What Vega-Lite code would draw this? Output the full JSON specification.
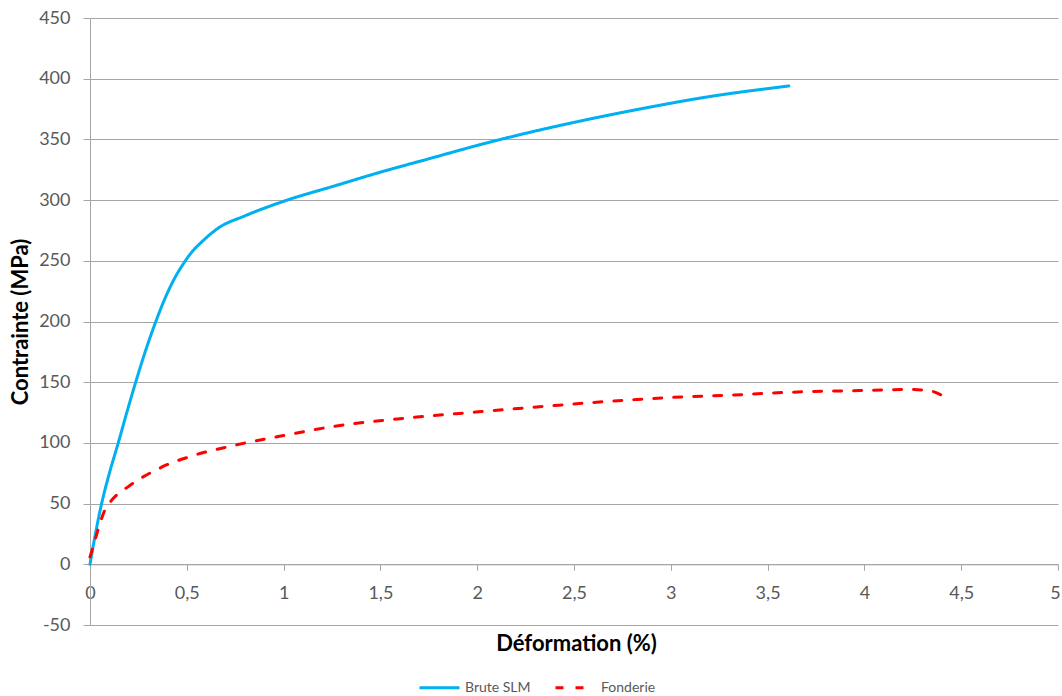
{
  "$schema": "https://vega.github.io/schema/vega-lite/v6.json",
  "width": 968,
  "height": 607,
  "autosize": {"type": "none"},
  "padding": {"left": 90, "top": 18, "right": 4, "bottom": 71},
  "background": "white",
  "config": {"view": {"stroke": null}, "font": "Lato"},
  "data": {
    "values": [
      {"series": "Brute SLM", "x": 0, "y": 0},
      {"series": "Brute SLM", "x": 0.028, "y": 25},
      {"series": "Brute SLM", "x": 0.06, "y": 50},
      {"series": "Brute SLM", "x": 0.1, "y": 75},
      {"series": "Brute SLM", "x": 0.146, "y": 100},
      {"series": "Brute SLM", "x": 0.19, "y": 125},
      {"series": "Brute SLM", "x": 0.236, "y": 150},
      {"series": "Brute SLM", "x": 0.285, "y": 175},
      {"series": "Brute SLM", "x": 0.34, "y": 200},
      {"series": "Brute SLM", "x": 0.39, "y": 220},
      {"series": "Brute SLM", "x": 0.435, "y": 235},
      {"series": "Brute SLM", "x": 0.48, "y": 247},
      {"series": "Brute SLM", "x": 0.525, "y": 257},
      {"series": "Brute SLM", "x": 0.58, "y": 266},
      {"series": "Brute SLM", "x": 0.663, "y": 277},
      {"series": "Brute SLM", "x": 0.8, "y": 287},
      {"series": "Brute SLM", "x": 1.0, "y": 299},
      {"series": "Brute SLM", "x": 1.27, "y": 312},
      {"series": "Brute SLM", "x": 1.5, "y": 323},
      {"series": "Brute SLM", "x": 1.75, "y": 334},
      {"series": "Brute SLM", "x": 2.0, "y": 345},
      {"series": "Brute SLM", "x": 2.25, "y": 355},
      {"series": "Brute SLM", "x": 2.5, "y": 364},
      {"series": "Brute SLM", "x": 2.84, "y": 375},
      {"series": "Brute SLM", "x": 3.19, "y": 385},
      {"series": "Brute SLM", "x": 3.61, "y": 394},
      {"series": "Fonderie", "x": 0, "y": 6},
      {"series": "Fonderie", "x": 0.026, "y": 20},
      {"series": "Fonderie", "x": 0.052, "y": 34},
      {"series": "Fonderie", "x": 0.075, "y": 44},
      {"series": "Fonderie", "x": 0.112, "y": 52.8},
      {"series": "Fonderie", "x": 0.198, "y": 64},
      {"series": "Fonderie", "x": 0.37, "y": 80},
      {"series": "Fonderie", "x": 0.542, "y": 90},
      {"series": "Fonderie", "x": 0.749, "y": 98.1},
      {"series": "Fonderie", "x": 1.007, "y": 106.3},
      {"series": "Fonderie", "x": 1.3, "y": 114.6},
      {"series": "Fonderie", "x": 1.524, "y": 118.7},
      {"series": "Fonderie", "x": 2.006, "y": 125.6},
      {"series": "Fonderie", "x": 2.376, "y": 130.5},
      {"series": "Fonderie", "x": 2.6, "y": 133.3},
      {"series": "Fonderie", "x": 2.824, "y": 135.8},
      {"series": "Fonderie", "x": 3.065, "y": 137.9},
      {"series": "Fonderie", "x": 3.306, "y": 139.3},
      {"series": "Fonderie", "x": 3.58, "y": 141.5},
      {"series": "Fonderie", "x": 3.805, "y": 142.6},
      {"series": "Fonderie", "x": 4.01, "y": 143.2},
      {"series": "Fonderie", "x": 4.22, "y": 144},
      {"series": "Fonderie", "x": 4.32, "y": 143.4},
      {"series": "Fonderie", "x": 4.39, "y": 140},
      {"series": "Fonderie", "x": 4.43, "y": 135.8}
    ]
  },
  "mark": {"type": "line", "strokeWidth": 3, "interpolate": "monotone", "strokeCap": "round"},
  "encoding": {
    "x": {
      "field": "x",
      "type": "quantitative",
      "scale": {"domain": [0, 5], "nice": false, "zero": false},
      "axis": {
        "values": [0, 0.5, 1, 1.5, 2, 2.5, 3, 3.5, 4, 4.5, 5],
        "labelExpr": "replace(format(datum.value, ''), '.', ',')",
        "offset": -60.7,
        "grid": false,
        "tickSize": 6,
        "labelPadding": 14,
        "labelFontSize": 18,
        "labelColor": "#595959",
        "labelFlush": false,
        "labelOffset": {"condition": {"test": "datum.value == 5", "value": -3}, "value": 0},
        "domainColor": "#A6A6A6",
        "tickColor": "#A6A6A6",
        "title": "Déformation (%)",
        "titleFontSize": 22,
        "titleFontWeight": "bold",
        "titleColor": "#000000",
        "titleX": 486,
        "titleY": 79,
        "titleBaseline": "middle",
        "titleAlign": "center"
      }
    },
    "y": {
      "field": "y",
      "type": "quantitative",
      "scale": {"domain": [-50, 450], "nice": false, "zero": false},
      "axis": {
        "values": [-50, 0, 50, 100, 150, 200, 250, 300, 350, 400, 450],
        "labelExpr": "'' + datum.value",
        "grid": true,
        "gridColor": "#A6A6A6",
        "domainColor": "#A6A6A6",
        "tickColor": "#A6A6A6",
        "tickSize": 7,
        "labelPadding": 13,
        "labelFontSize": 18,
        "labelColor": "#595959",
        "labelFlush": false,
        "title": "Contrainte (MPa)",
        "titleFontSize": 22,
        "titleFontWeight": "bold",
        "titleColor": "#000000",
        "titleX": -70,
        "titleY": 303.5,
        "titleAngle": 270,
        "titleBaseline": "middle",
        "titleAlign": "center"
      }
    },
    "color": {
      "field": "series",
      "type": "nominal",
      "scale": {"domain": ["Brute SLM", "Fonderie"], "range": ["#00B0F0", "#FF0000"]},
      "legend": {
        "title": null,
        "orient": "none",
        "legendX": 328,
        "legendY": 648,
        "direction": "horizontal",
        "symbolType": "stroke",
        "symbolSize": 1600,
        "symbolStrokeWidth": 3,
        "labelFontSize": 14,
        "labelColor": "#595959",
        "columnPadding": 18,
        "labelOffset": 4
      }
    },
    "strokeDash": {
      "field": "series",
      "type": "nominal",
      "scale": {"domain": ["Brute SLM", "Fonderie"], "range": [[1, 0], [8, 12]]},
      "legend": {
        "title": null,
        "orient": "none",
        "legendX": 328,
        "legendY": 648,
        "direction": "horizontal",
        "symbolType": "stroke",
        "symbolSize": 1600,
        "symbolStrokeWidth": 3,
        "labelFontSize": 14,
        "labelColor": "#595959",
        "columnPadding": 18,
        "labelOffset": 4
      }
    }
  }
}
